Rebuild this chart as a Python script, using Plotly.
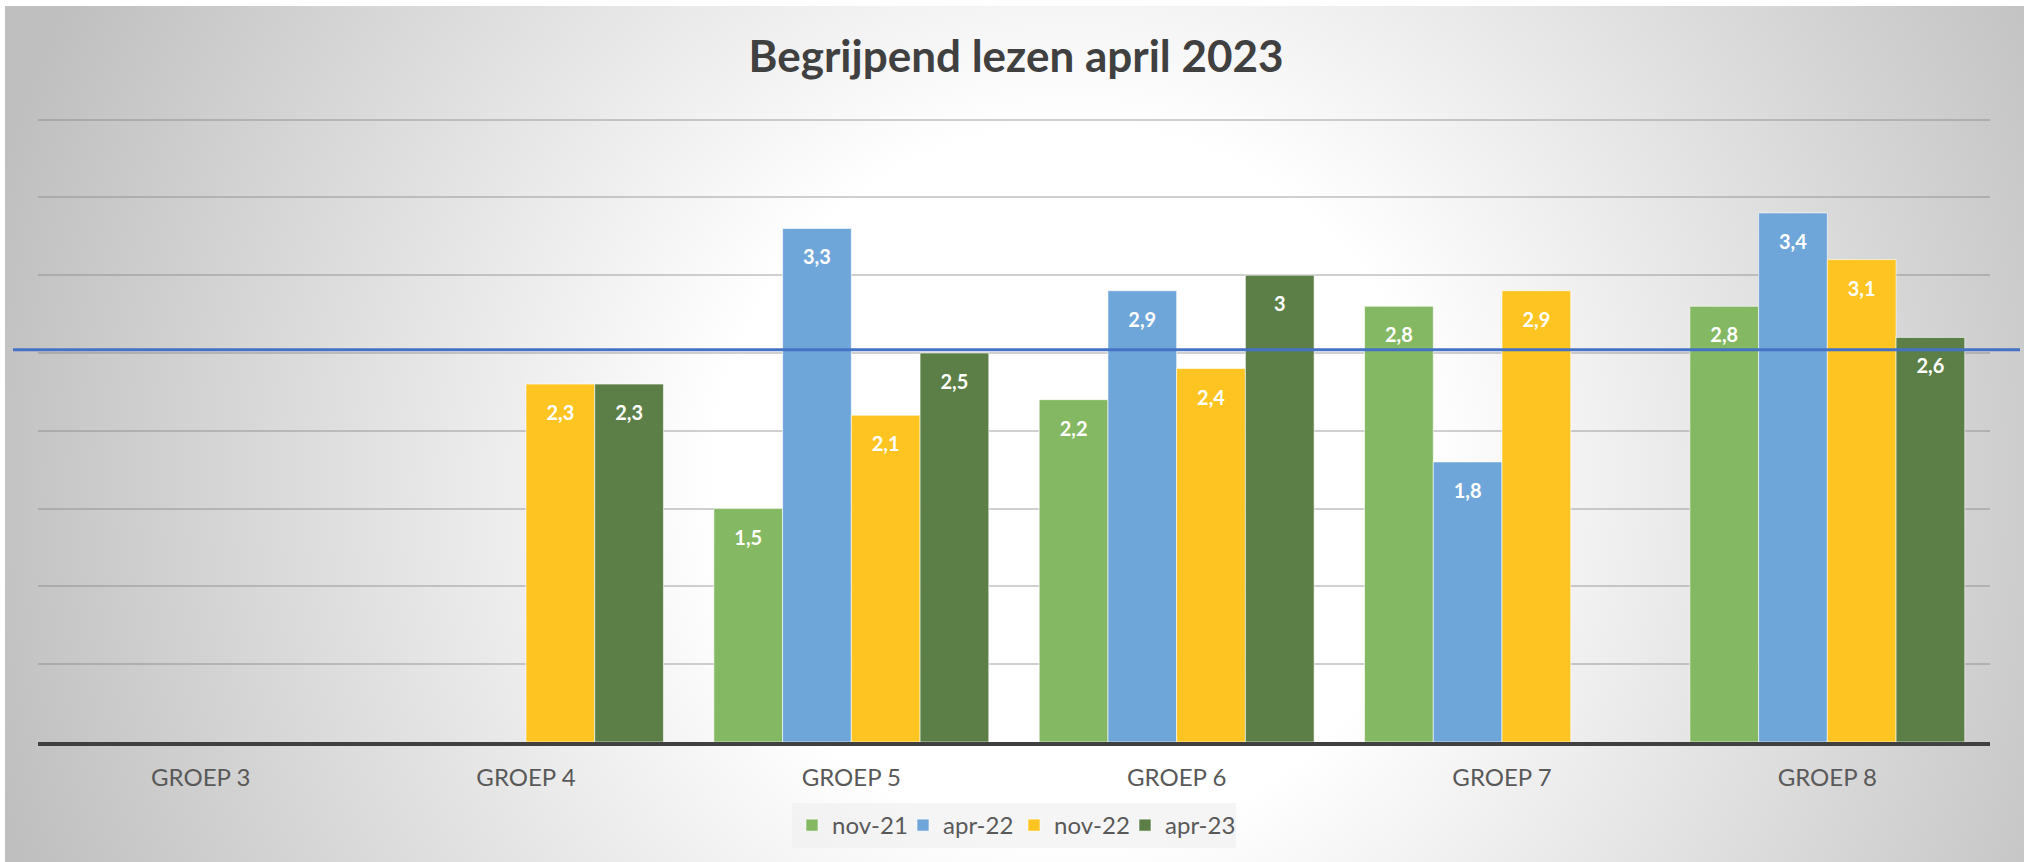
import base64
import plotly.graph_objects as go

# data
groepen = ["GROEP 3", "GROEP 4", "GROEP 5", "GROEP 6", "GROEP 7", "GROEP 8"]
reeksen = ["nov-21", "apr-22", "nov-22", "apr-23"]
nov_21 = [None, None, 1.5, 2.2, 2.8, 2.8]
apr_22 = [None, None, 3.3, 2.9, 1.8, 3.4]
nov_22 = [None, 2.3, 2.1, 2.4, 2.9, 3.1]
apr_23 = [None, 2.3, 2.5, 3.0, None, 2.6]
norm = 2.52

kleuren = ["#84B862", "#6FA6D9", "#FEC522", "#5C7F47"]

W, H = 2024, 862
L, R, T, B = 38, 34, 118, 120
pw, ph = W - L - R, H - T - B


def label(v):
    if v is None:
        return ""
    return f"{v:g}".replace(".", ",")


fig = go.Figure()
for naam, waarden, kleur in zip(reeksen, [nov_21, apr_22, nov_22, apr_23], kleuren):
    fig.add_trace(go.Bar(
        x=groepen, y=waarden, name=naam, offsetgroup=naam,
        marker=dict(color=kleur, line=dict(color="rgba(255,255,255,0.6)", width=1)),
        hoverinfo="skip",
    ))
# data labels, aligned with the bars through scattermode group
for naam, waarden in zip(reeksen, [nov_21, apr_22, nov_22, apr_23]):
    fig.add_trace(go.Scatter(
        x=groepen, y=waarden, mode="markers+text", offsetgroup=naam,
        text=[label(v) for v in waarden], textposition="bottom center",
        marker=dict(size=32, opacity=0),
        textfont=dict(family="Lato", size=20, color="white", weight="bold"),
        showlegend=False, hoverinfo="skip",
    ))

# radial grey background
svg = f'''<svg xmlns="http://www.w3.org/2000/svg" width="{W}" height="{H}" viewBox="0 0 {W} {H}" preserveAspectRatio="none">
<defs><radialGradient id="g" gradientUnits="userSpaceOnUse" cx="1070" cy="480" r="1120">
<stop offset="0" stop-color="#ffffff"/><stop offset="0.32" stop-color="#ffffff"/>
<stop offset="1" stop-color="#bfbfbf"/></radialGradient></defs>
<rect width="{W}" height="{H}" fill="url(#g)"/></svg>'''
bg = "data:image/svg+xml;base64," + base64.b64encode(svg.encode()).decode()

fig.update_layout(
    width=W, height=H,
    margin=dict(l=L, r=R, t=T, b=B),
    paper_bgcolor="white",
    plot_bgcolor="rgba(0,0,0,0)",
    barmode="group", bargap=0.155, bargroupgap=0,
    scattermode="group", scattergap=0.155,
    title=dict(text="Begrijpend lezen april 2023", x=0.502, xref="container",
               y=1 - 57 / H, yref="container", yanchor="middle", xanchor="center",
               font=dict(family="Lato", size=44, color="#404040", weight="bold")),
    xaxis=dict(type="category", showline=True, linecolor="#404040", linewidth=4,
               showgrid=False, ticks="", ticklabelstandoff=11,
               tickfont=dict(family="Lato", size=24, color="#595959")),
    yaxis=dict(range=[0, 4.01], dtick=0.5, showticklabels=False, zeroline=False,
               showgrid=True, gridcolor="rgba(120,120,120,0.35)", gridwidth=1.5),
    legend=dict(orientation="h", x=0.5, xanchor="center", xref="paper",
                y=1 - 803 / H, yref="container", yanchor="top",
                bgcolor="rgba(238,238,238,0.6)", entrywidth=66, itemwidth=30,
                font=dict(family="Lato", size=24, color="#595959")),
    images=[dict(source=bg, xref="paper", yref="paper",
                 x=(5 - L) / pw, y=1 + (T - 6) / ph,
                 sizex=(W - 5) / pw, sizey=(H - 6) / ph,
                 xanchor="left", yanchor="top", sizing="stretch", layer="below")],
    shapes=[dict(type="line", xref="paper", yref="y",
                 x0=(13 - L) / pw, x1=(2020 - L) / pw, y0=norm, y1=norm,
                 line=dict(color="#4472C4", width=3), layer="above")],
    showlegend=True,
)

fig.write_html("out.html", config={"displayModeBar": False},
               post_script="document.body.style.margin='0';")
